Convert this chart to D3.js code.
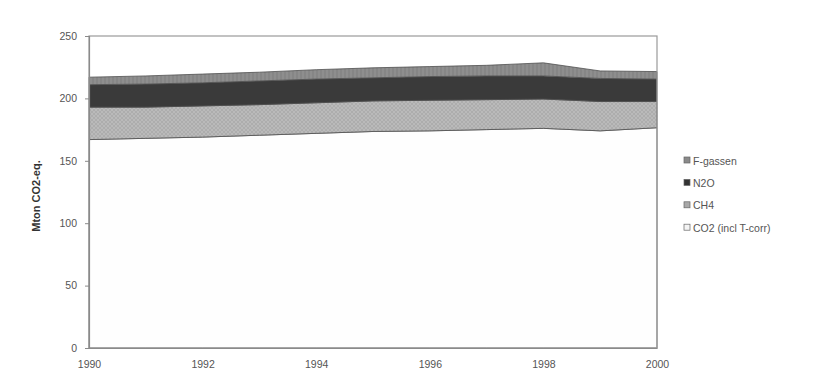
<!DOCTYPE html>
<html>
<head>
<meta charset="utf-8">
<script src="https://cdn.jsdelivr.net/npm/d3@7"></script>
<style>
  html, body { margin: 0; padding: 0; background: #fff; }
  svg { display: block; font-family: "Liberation Sans", Arial, sans-serif; }
</style>
</head>
<body>
<svg id="chart" width="840" height="379"></svg>
<script>
// Greenhouse gas emissions, Mton CO2-eq., 1990-2000
const years = [1990, 1991, 1992, 1993, 1994, 1995, 1996, 1997, 1998, 1999, 2000];
const co2  = [167, 168, 169, 170.5, 172, 173.5, 174, 175, 176, 174, 176.5];
const ch4  = [26, 25, 25, 24.5, 24.5, 24.5, 24.5, 24, 23.5, 23.5, 21];
const n2o  = [18, 18.5, 18.5, 19, 19, 18.5, 19, 19, 18.5, 18.5, 18];
const fgas = [6, 6.5, 7, 7, 7.5, 8, 8, 8.5, 10.5, 6, 6];

const seriesKeys   = ["co2", "ch4", "n2o", "fgas"];
const seriesLabels = ["CO2 (incl T-corr)", "CH4", "N2O", "F-gassen"];
const yTicks = [0, 50, 100, 150, 200, 250];
const xTicks = [1990, 1992, 1994, 1996, 1998, 2000];

const rows = years.map((y, i) => ({ year: y, co2: co2[i], ch4: ch4[i], n2o: n2o[i], fgas: fgas[i] }));

const svg = d3.select("#chart");
const margin = { left: 89, right: 183, top: 36, bottom: 31 };
const W = 840, H = 379;
const x = d3.scaleLinear().domain([1990, 2000]).range([margin.left, W - margin.right]);
const y = d3.scaleLinear().domain([0, 250]).range([H - margin.bottom, margin.top]);

// fill patterns for the bands
const defs = svg.append("defs");
const pCh4 = defs.append("pattern").attr("id", "pat-ch4").attr("patternUnits", "userSpaceOnUse")
  .attr("width", 4).attr("height", 4);
pCh4.append("rect").attr("width", 4).attr("height", 4).attr("fill", "#bababa");
pCh4.append("path").attr("d", "M0,4 L4,0 M0,0 L4,4").attr("stroke", "#a8a8a8").attr("stroke-width", 0.7);

const pF = defs.append("pattern").attr("id", "pat-f").attr("patternUnits", "userSpaceOnUse")
  .attr("width", 4).attr("height", 4);
pF.append("rect").attr("width", 4).attr("height", 4).attr("fill", "#8e8e8e");
pF.append("path").attr("d", "M1,0 L1,4").attr("stroke", "#7e7e7e").attr("stroke-width", 1);

const fills = { co2: "#fefefe", ch4: "url(#pat-ch4)", n2o: "#3a3a3a", fgas: "url(#pat-f)" };
const swatch = { co2: "#f4f4f4", ch4: "#a8a8a8", n2o: "#333333", fgas: "#8a8a8a" };

const stacked = d3.stack().keys(seriesKeys)(rows);
const area = d3.area()
  .x(d => x(d.data.year))
  .y0(d => y(d[0]))
  .y1(d => y(d[1]));

svg.append("g").selectAll("path")
  .data(stacked)
  .join("path")
  .attr("d", area)
  .attr("fill", d => fills[d.key])
  .attr("stroke", "#505050")
  .attr("stroke-width", 0.8);

// plot frame
svg.append("rect")
  .attr("x", x(1990)).attr("y", y(250))
  .attr("width", x(2000) - x(1990)).attr("height", y(0) - y(250))
  .attr("fill", "none").attr("stroke", "#9a9a9a").attr("stroke-width", 1.2);

// y axis
const yAxis = svg.append("g")
  .attr("transform", `translate(${x(1990)},0)`)
  .call(d3.axisLeft(y).tickValues(yTicks).tickSize(4).tickPadding(8).tickFormat(d3.format("d")));
yAxis.select(".domain").attr("stroke", "#8a8a8a").attr("stroke-width", 1.2);
yAxis.selectAll(".tick line").attr("stroke", "#8a8a8a");
yAxis.selectAll("text").attr("fill", "#555").style("font-size", "10.5px");

// x axis
const xAxis = svg.append("g")
  .attr("transform", `translate(0,${y(0)})`)
  .call(d3.axisBottom(x).tickValues(xTicks).tickSize(0).tickPadding(13).tickFormat(d3.format("d")));
xAxis.select(".domain").attr("stroke", "#8a8a8a").attr("stroke-width", 1.2);
xAxis.selectAll("text").attr("fill", "#555").style("font-size", "10.5px");

// y axis title
svg.append("text")
  .attr("transform", `translate(40,${(y(0) + y(250)) / 2 + 4}) rotate(-90)`)
  .attr("text-anchor", "middle")
  .attr("fill", "#333")
  .style("font-size", "11px")
  .style("font-weight", "bold")
  .text("Mton CO2-eq.");

// legend, top entry is the top band
const legendOrder = [3, 2, 1, 0];
const legend = svg.append("g").attr("transform", "translate(684,161)");
legendOrder.forEach((idx, i) => {
  const g = legend.append("g").attr("transform", `translate(0,${i * 22.4})`);
  g.append("rect").attr("x", 0).attr("y", -4).attr("width", 6).attr("height", 6)
    .attr("fill", swatch[seriesKeys[idx]]).attr("stroke", "#666").attr("stroke-width", 0.7);
  g.append("text").attr("x", 9).attr("y", 3.5)
    .attr("fill", "#555").style("font-size", "10.5px")
    .text(seriesLabels[idx]);
});
</script>
</body>
</html>
